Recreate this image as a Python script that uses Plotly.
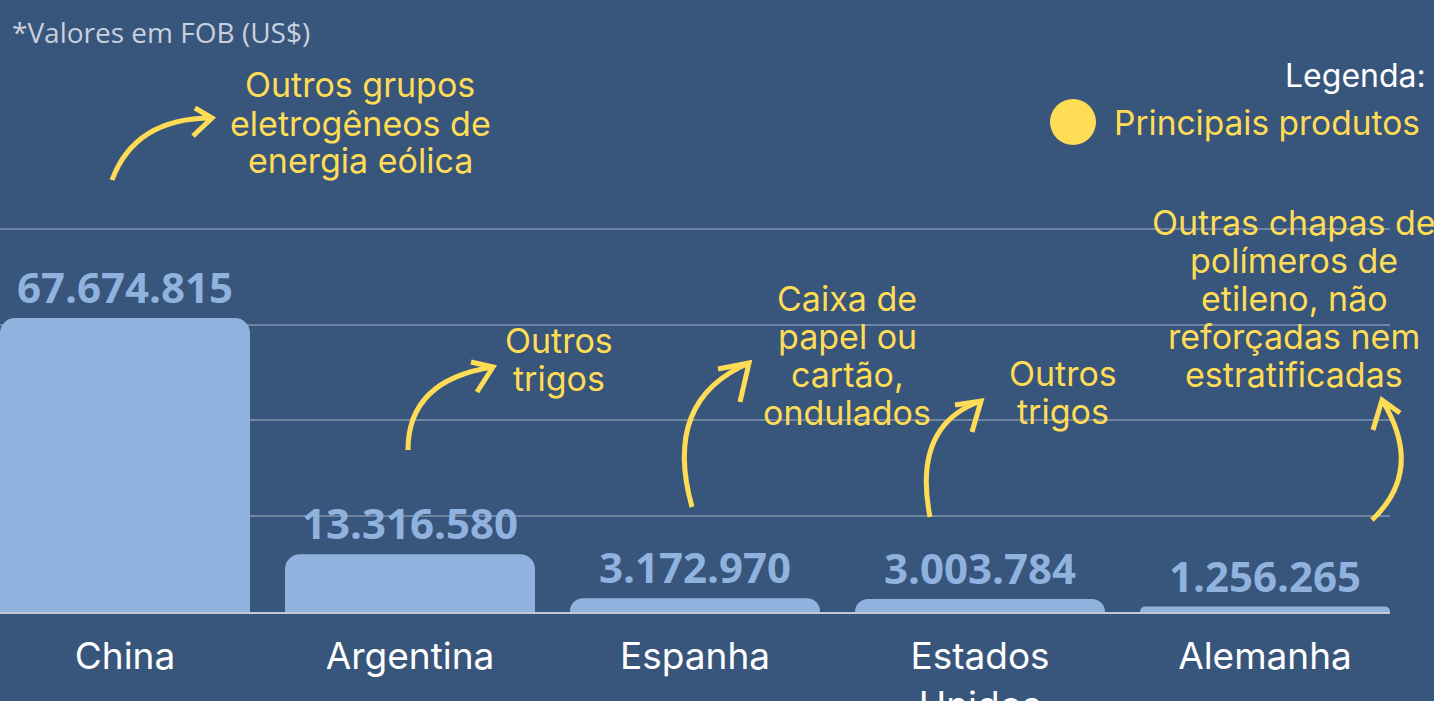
import plotly.graph_objects as go

# ---------------- data ----------------
paises = ["China", "Argentina", "Espanha", "Estados Unidos", "Alemanha"]
rotulos = ["China", "Argentina", "Espanha", "Estados<br>Unidos", "Alemanha"]
valores_fob = [67674815, 13316580, 3172970, 3003784, 1256265]
produtos = [
    ["Outros grupos", "eletrogêneos de", "energia eólica"],
    ["Outros", "trigos"],
    ["Caixa de", "papel ou", "cartão,", "ondulados"],
    ["Outros", "trigos"],
    ["Outras chapas de", "polímeros de", "etileno, não", "reforçadas nem", "estratificadas"],
]
nota = "*Valores em FOB (US$)"
legenda_titulo = "Legenda:"
legenda_item = "Principais produtos"

# ---------------- style ----------------
W, H = 1434, 701
PL, PR, PT, PB = 0, 1390, 219, 612
BG = "#38557c"
BAR = "#8fb2df"
YEL = "#ffdc55"
WHITE = "#ffffff"


def px(xp):
    return (xp - PL) / (PR - PL)


def py(yp):
    return (PB - yp) / (PB - PT)


fig = go.Figure()
fig.add_trace(go.Bar(
    x=paises, y=valores_fob,
    marker=dict(color=BAR, cornerradius=15, line=dict(width=0)),
    texttemplate="%{y:,.0f}", textposition="outside",
    textfont=dict(family="Open Sans", size=42, color=BAR, weight="bold"),
    constraintext="none", cliponaxis=False, hoverinfo="skip",
))

annotations = []
shapes = []

# product text blocks (center x, center y in pixels)
blocos = [(360, 123), (559, 359), (847, 355), (1063, 392), (1294, 298)]
LINE = 38
for linhas, (cx, cy) in zip(produtos, blocos):
    n = len(linhas)
    for i, t in enumerate(linhas):
        yy = cy + (i - (n - 1) / 2) * LINE
        annotations.append(dict(
            text=t, x=px(cx), y=py(yy), xref="paper", yref="paper",
            xanchor="center", yanchor="middle", showarrow=False,
            font=dict(family="Inter", size=34, color=YEL)))

# hand-drawn arrows: start, control, tip, arm1, arm2 (pixels)
setas = [
    ((112, 180), (135, 118), (212, 118), (195, 108), (193, 136)),
    ((408, 450), (408, 380), (493, 367), (471, 362), (477, 392)),
    ((692, 507), (662, 400), (749, 363), (718, 369), (740, 402)),
    ((930, 517), (912, 425), (981, 401), (955, 405), (972, 432)),
    ((1372, 520), (1425, 470), (1382, 400), (1373, 430), (1400, 413)),
]
for s, c, t, a1, a2 in setas:
    def P(p):
        return f"{px(p[0]):.5f},{py(p[1]):.5f}"
    path = f"M {P(s)} Q {P(c)} {P(t)} M {P(a1)} L {P(t)} L {P(a2)}"
    shapes.append(dict(type="path", path=path, xref="paper", yref="paper",
                       line=dict(color=YEL, width=5), fillcolor="rgba(0,0,0,0)",
                       layer="above"))

# legend
r = 23
shapes.append(dict(type="circle", xref="paper", yref="paper",
                   x0=px(1073 - r), x1=px(1073 + r), y0=py(122 + r), y1=py(122 - r),
                   fillcolor=YEL, line=dict(width=0)))
annotations.append(dict(text=legenda_item, x=px(1112), y=py(123), xref="paper", yref="paper",
                        xanchor="left", yanchor="middle", showarrow=False,
                        font=dict(family="Inter", size=33.5, color=YEL)))
annotations.append(dict(text=legenda_titulo, x=px(1428), y=py(75), xref="paper", yref="paper",
                        xanchor="right", yanchor="middle", showarrow=False,
                        font=dict(family="Inter", size=32, color=WHITE)))
annotations.append(dict(text=nota, x=px(10), y=py(32), xref="paper", yref="paper",
                        xanchor="left", yanchor="middle", showarrow=False,
                        font=dict(family="Open Sans", size=28, color="#c9d0dc")))

fig.update_layout(
    width=W, height=H,
    margin=dict(l=PL, r=W - PR, t=PT, b=H - PB, pad=0, autoexpand=False),
    paper_bgcolor=BG, plot_bgcolor=BG,
    separators=",.",
    bargap=1 - 250 / 285,
    showlegend=False,
    annotations=annotations, shapes=shapes,
    xaxis=dict(
        tickmode="array", tickvals=paises, ticktext=rotulos,
        range=[-125 / 285, 4 + 125 / 285], automargin=False,
        tickfont=dict(family="Inter", size=37, color=WHITE),
        showgrid=False, showline=True, linecolor="#c3cad6", linewidth=2,
        ticks="", ticklabelstandoff=11, fixedrange=True,
    ),
    yaxis=dict(
        range=[0, 90.5e6], dtick=22.05e6, tick0=0, automargin=False,
        showgrid=True, gridcolor="rgba(255,255,255,0.28)", gridwidth=2,
        zeroline=False, showticklabels=False, ticks="", fixedrange=True,
    ),
)

fig.write_html("out.html", config={"displayModeBar": False},
               post_script="document.body.style.margin='0';document.body.style.overflow='hidden';")
